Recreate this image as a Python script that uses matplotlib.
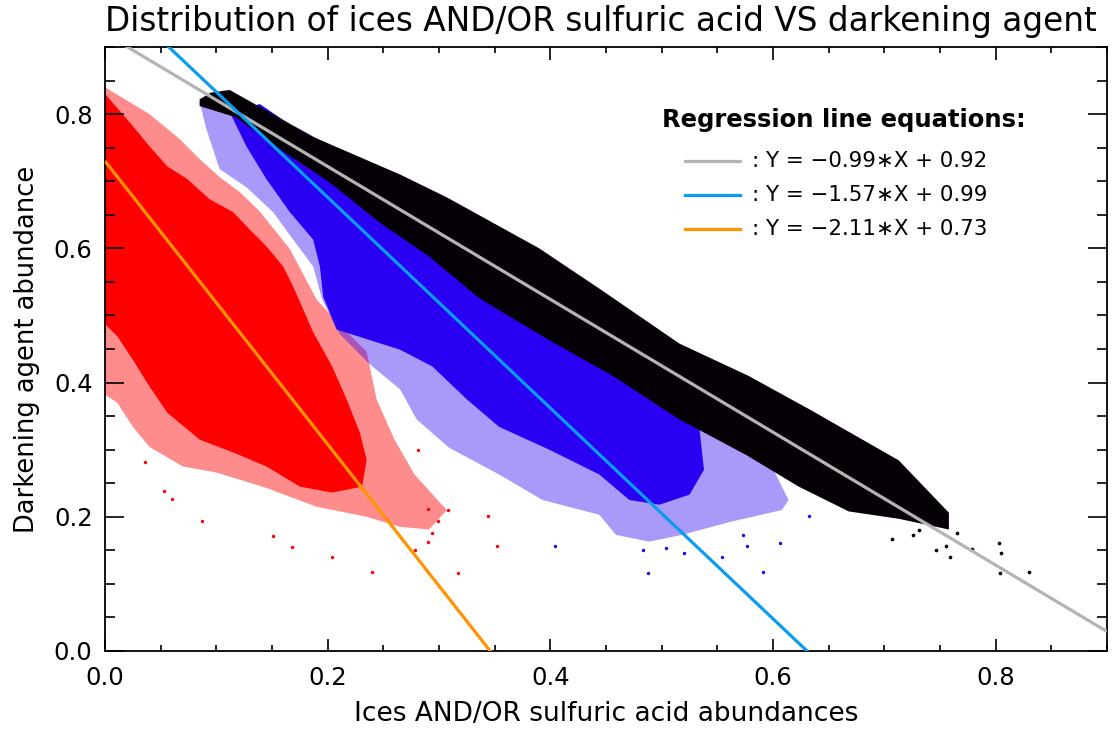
import numpy as np
import matplotlib
matplotlib.use("Agg")
import matplotlib.pyplot as plt
from matplotlib.ticker import MultipleLocator

# ---------------- data ----------------

# regression fits: (slope, intercept, colour)
fit_slopes = [-0.99, -1.57, -2.11]
fit_intercepts = [0.92, 0.99, 0.73]
fit_colors = ["#b4b4b4", "#0a9cf0", "#ff9300"]

# red cloud: sparse outline and dense core
red_outer_x = [0.000, 0.018, 0.040, 0.067, 0.085, 0.103, 0.121, 0.139, 0.166, 0.190,
               0.215, 0.235, 0.244, 0.260, 0.278, 0.307, 0.291, 0.265, 0.235, 0.190,
               0.145, 0.100, 0.070, 0.040, 0.025, 0.011, 0.000]
red_outer_y = [0.840, 0.822, 0.800, 0.763, 0.733, 0.706, 0.684, 0.655, 0.599, 0.524,
               0.479, 0.446, 0.375, 0.315, 0.263, 0.210, 0.181, 0.185, 0.200, 0.215,
               0.243, 0.266, 0.275, 0.304, 0.334, 0.370, 0.382]
red_core_x = [0.000, 0.022, 0.040, 0.056, 0.074, 0.094, 0.115, 0.130, 0.145, 0.160,
              0.169, 0.187, 0.204, 0.217, 0.229, 0.235, 0.231, 0.204, 0.175, 0.145,
              0.115, 0.085, 0.056, 0.040, 0.025, 0.011, 0.000]
red_core_y = [0.830, 0.788, 0.752, 0.722, 0.703, 0.673, 0.654, 0.628, 0.603, 0.573,
              0.543, 0.475, 0.424, 0.375, 0.325, 0.285, 0.245, 0.236, 0.245, 0.275,
              0.296, 0.315, 0.355, 0.394, 0.434, 0.469, 0.487]
red_pts_x = [0.240, 0.204, 0.168, 0.151, 0.087, 0.060, 0.053, 0.036, 0.294, 0.278,
             0.290, 0.317, 0.352, 0.344, 0.308, 0.299, 0.290, 0.281]
red_pts_y = [0.118, 0.140, 0.155, 0.172, 0.193, 0.227, 0.239, 0.282, 0.176, 0.151,
             0.163, 0.116, 0.157, 0.201, 0.210, 0.193, 0.212, 0.300]

# blue cloud
blue_outer_x = [0.085, 0.112, 0.175, 0.265, 0.354, 0.444, 0.534, 0.587, 0.614, 0.608,
                0.563, 0.518, 0.489, 0.459, 0.444, 0.393, 0.354, 0.309, 0.280, 0.265,
                0.238, 0.211, 0.195, 0.187, 0.169, 0.151, 0.127, 0.103, 0.091]
blue_outer_y = [0.818, 0.827, 0.778, 0.696, 0.606, 0.509, 0.375, 0.315, 0.225, 0.210,
                0.193, 0.173, 0.163, 0.173, 0.203, 0.225, 0.263, 0.303, 0.345, 0.390,
                0.427, 0.472, 0.524, 0.573, 0.613, 0.654, 0.691, 0.718, 0.778]
blue_core_x = [0.112, 0.139, 0.265, 0.399, 0.489, 0.534, 0.538, 0.525, 0.498, 0.471,
               0.444, 0.399, 0.354, 0.325, 0.294, 0.265, 0.208, 0.196, 0.193, 0.187,
               0.166, 0.145, 0.127]
blue_core_y = [0.803, 0.815, 0.673, 0.524, 0.404, 0.330, 0.270, 0.233, 0.218, 0.225,
               0.263, 0.300, 0.334, 0.375, 0.424, 0.449, 0.479, 0.528, 0.573, 0.613,
               0.654, 0.703, 0.752]
blue_pts_x = [0.404, 0.488, 0.520, 0.483, 0.504, 0.591, 0.554, 0.606, 0.577, 0.573, 0.632]
blue_pts_y = [0.157, 0.116, 0.146, 0.151, 0.154, 0.118, 0.140, 0.161, 0.157, 0.173, 0.201]

# black cloud: upper and lower envelopes
black_up_x = [0.085, 0.095, 0.112, 0.187, 0.265, 0.307, 0.390, 0.444, 0.516, 0.578, 0.635,
              0.713, 0.758]
black_up_y = [0.822, 0.832, 0.836, 0.766, 0.710, 0.676, 0.600, 0.540, 0.458, 0.410, 0.358,
              0.284, 0.206]
black_lo_x = [0.085, 0.118, 0.157, 0.202, 0.247, 0.291, 0.336, 0.396, 0.456, 0.516, 0.576,
              0.623, 0.668, 0.713, 0.758]
black_lo_y = [0.812, 0.795, 0.748, 0.698, 0.638, 0.588, 0.526, 0.466, 0.410, 0.345, 0.292,
              0.245, 0.208, 0.197, 0.181]
black_pts_x = [0.803, 0.805, 0.804, 0.830, 0.779, 0.759, 0.765, 0.746, 0.755, 0.707, 0.726, 0.731]
black_pts_y = [0.161, 0.146, 0.116, 0.118, 0.152, 0.140, 0.176, 0.151, 0.157, 0.167, 0.173, 0.181]

# ---------------- figure ----------------

plt.rcParams["font.family"] = "DejaVu Sans"
fig = plt.figure(figsize=(11.16, 7.33), dpi=100)
ax = fig.add_axes([105 / 1116, 82 / 733, 1002 / 1116, 604 / 733])

RED = "#ff0000"
BLUE = "#2a00f2"
BLACK = "#050005"

# red cloud
ax.fill(red_outer_x, red_outer_y, color=RED, alpha=0.45, lw=0, zorder=1)
ax.fill(red_core_x, red_core_y, color=RED, lw=0, zorder=1)
ax.scatter(red_pts_x, red_pts_y, s=6, color=RED, lw=0, zorder=1)

# blue cloud
ax.fill(blue_outer_x, blue_outer_y, color=BLUE, alpha=0.4, lw=0, zorder=2)
ax.fill(blue_core_x, blue_core_y, color=BLUE, lw=0, zorder=2)
ax.scatter(blue_pts_x, blue_pts_y, s=6, color=BLUE, lw=0, zorder=2)

# black cloud
ax.fill(black_up_x + black_lo_x[::-1], black_up_y + black_lo_y[::-1],
        color=BLACK, lw=0, zorder=3)
ax.scatter(black_pts_x, black_pts_y, s=7, color=BLACK, lw=0, zorder=3)

# regression lines
xs = np.array([0.0, 0.9])
for m, b, c in zip(fit_slopes, fit_intercepts, fit_colors):
    ax.plot(xs, m * xs + b, color=c, lw=2.3, zorder=4, solid_capstyle="butt")

ax.set_xlim(0, 0.9)
ax.set_ylim(0, 0.9)
ax.xaxis.set_major_locator(MultipleLocator(0.2))
ax.xaxis.set_minor_locator(MultipleLocator(0.05))
ax.yaxis.set_major_locator(MultipleLocator(0.2))
ax.yaxis.set_minor_locator(MultipleLocator(0.05))
ax.xaxis.set_major_formatter(lambda v, p: f"{v:.1f}")
ax.yaxis.set_major_formatter(lambda v, p: f"{v:.1f}")
ax.tick_params(axis="x", which="major", direction="in", length=9, width=1.2,
               top=True, labelsize=17.5, pad=11)
ax.tick_params(axis="x", which="minor", direction="in", length=4.5, width=1.2, top=True)
ax.tick_params(axis="y", which="major", direction="in", length=14, width=1.2,
               right=True, labelsize=17.5, pad=9)
ax.tick_params(axis="y", which="minor", direction="in", length=7, width=1.2, right=True)
for s in ax.spines.values():
    s.set_linewidth(1.3)

fig.text(601 / 1116, 1 - 21 / 733,
         "Distribution of ices AND/OR sulfuric acid VS darkening agent",
         fontsize=23.6, ha="center", va="center")
ax.set_xlabel("Ices AND/OR sulfuric acid abundances", fontsize=19, labelpad=8)
ax.set_ylabel("Darkening agent abundance", fontsize=18.5, labelpad=10)

# equations box
ax.text(0.737, 0.879, "Regression line equations:", transform=ax.transAxes,
        fontsize=17.5, fontweight="bold", ha="center", va="center")
legend_y = [0.811, 0.755, 0.699]
for m, b, c, ly in zip(fit_slopes, fit_intercepts, fit_colors, legend_y):
    ax.plot([0.579, 0.634], [ly, ly], transform=ax.transAxes, color=c, lw=2.3)
    ax.text(0.646, ly, f": Y = \u2212{abs(m):.2f}\u2217X + {b:.2f}",
            transform=ax.transAxes, fontsize=15.4, ha="left", va="center")

# lowest y label sits above the axis line
fig.canvas.draw()
ax.get_yticklabels()[0].set_va("bottom")

fig.savefig("out.png", dpi=100)
